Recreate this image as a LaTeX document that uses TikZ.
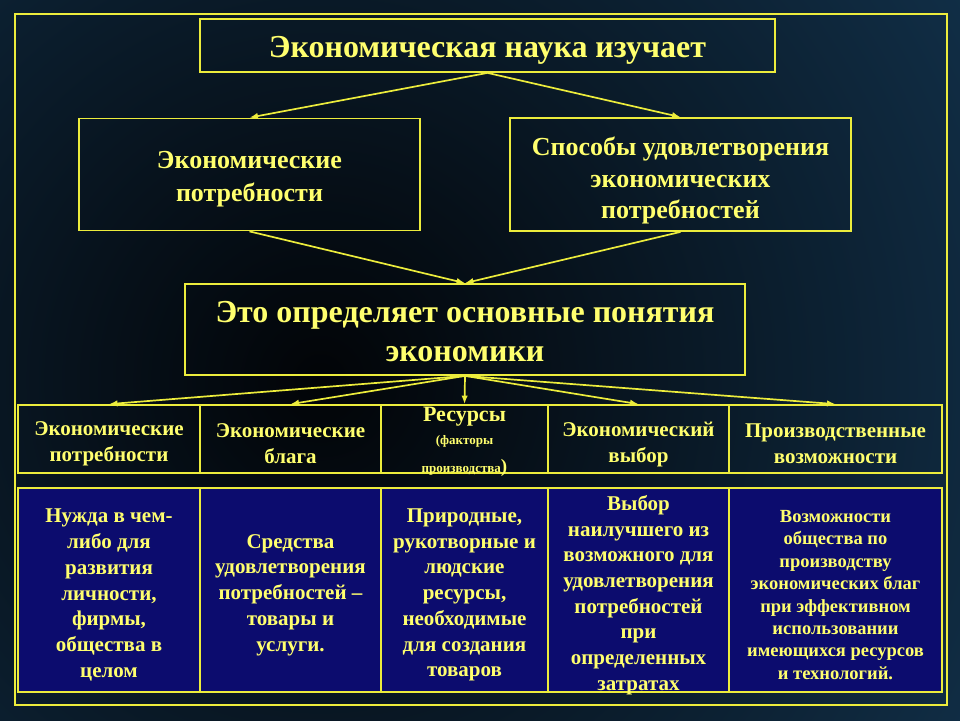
\documentclass[tikz,border=0pt]{standalone}
\usepackage{fontspec}
\setmainfont{Liberation Serif}
\usetikzlibrary{arrows.meta}
\definecolor{ylw}{RGB}{236,236,60}
\definecolor{txt}{RGB}{255,255,110}
\definecolor{navyfill}{RGB}{12,12,110}
\definecolor{bgin}{RGB}{2,4,7}
\definecolor{bgout}{RGB}{18,50,76}
\begin{document}
\begin{tikzpicture}[x=1pt,y=-1pt,
  box/.style={draw=ylw, line width=1.8pt, rectangle, inner sep=0pt},
  tx/.style={text=txt, align=center, inner sep=0pt, yshift=-5pt},
  cell/.style={box, minimum height=68pt},
  desc/.style={box, fill=navyfill, minimum height=204pt},
  celltx/.style={tx, font=\fontsize{21}{26}\selectfont\bfseries},
  desctx/.style={tx, font=\fontsize{21}{25.7}\selectfont\bfseries},
  arr/.style={draw=ylw, line width=1.7pt, -{Latex[length=8.5pt,width=6.5pt]}}]
\useasboundingbox (0,0) rectangle (960,720);
\begin{scope}
\clip (0,0) rectangle (960,720);
\shade[inner color=bgin, outer color=bgout] (320,380) circle (820);
\end{scope}
% outer frame
\node[box, minimum width=932pt, minimum height=691pt] (frame) at (481,359.5) {};
% top level
\node[box, minimum width=575pt, minimum height=53pt] (top) at (487.5,45.5) {};
\node[tx, font=\fontsize{32}{36}\selectfont\bfseries] (ttop) at (top.center) {Экономическая наука изучает};
\node[box, minimum width=341pt, minimum height=112pt] (needs) at (249.5,174.5) {};
\node[tx, font=\fontsize{26}{33}\selectfont\bfseries] (tneeds) at (needs.center) {Экономические\\потребности};
\node[box, minimum width=341pt, minimum height=113pt] (ways) at (680.5,174.5) {};
\node[tx, font=\fontsize{26}{31.5}\selectfont\bfseries, yshift=-1pt] (tways) at (ways.center) {Способы удовлетворения\\экономических\\потребностей};
\node[box, minimum width=560pt, minimum height=91pt] (mid) at (465,329.5) {};
\node[tx, font=\fontsize{32}{39}\selectfont\bfseries, yshift=3pt] (tmid) at (mid.center) {Это определяет основные понятия\\экономики};
% row 1
\node[cell, minimum width=182pt] (c1) at (109,439) {};
\node[cell, minimum width=181pt] (c2) at (290.5,439) {};
\node[cell, minimum width=167pt] (c3) at (464.5,439) {};
\node[cell, minimum width=181pt] (c4) at (638.5,439) {};
\node[cell, minimum width=213pt] (c5) at (835.5,439) {};
\node[celltx] (tc1) at (c1.center) {Экономические\\потребности};
\node[celltx] (tc2) at (c2.center) {Экономические\\блага};
\node[celltx] (tc4) at (c4.center) {Экономический\\выбор};
\node[celltx] (tc5) at (c5.center) {Производственные\\возможности};
\node[text=txt, font=\fontsize{22}{24}\selectfont\bfseries, inner sep=0pt] (res) at (464.5,417) {Ресурсы};
\node[text=txt, font=\fontsize{13}{14}\selectfont\bfseries, inner sep=0pt] (fac) at (464.5,441) {(факторы};
\node[text=txt, font=\fontsize{13}{14}\selectfont\bfseries, inner sep=0pt, anchor=base] (prod) at (464.5,472) {производства\fontsize{19}{20}\selectfont)};
% row 2
\node[desc, minimum width=182pt] (d1) at (109,590) {};
\node[desc, minimum width=181pt] (d2) at (290.5,590) {};
\node[desc, minimum width=167pt] (d3) at (464.5,590) {};
\node[desc, minimum width=181pt] (d4) at (638.5,590) {};
\node[desc, minimum width=213pt] (d5) at (835.5,590) {};
\node[desctx] (td1) at (d1.center) {Нужда в чем-\\либо для\\развития\\личности,\\фирмы,\\общества в\\целом};
\node[desctx] (td2) at (d2.center) {Средства\\удовлетворения\\потребностей –\\товары и\\услуги.};
\node[desctx] (td3) at (d3.center) {Природные,\\рукотворные и\\людские\\ресурсы,\\необходимые\\для создания\\товаров};
\node[desctx] (td4) at (d4.center) {Выбор\\наилучшего из\\возможного для\\удовлетворения\\потребностей\\при\\определенных\\затратах};
\node[tx, font=\fontsize{18.5}{22.4}\selectfont\bfseries] (td5) at (d5.center) {Возможности\\общества по\\производству\\экономических благ\\при эффективном\\использовании\\имеющихся ресурсов\\и технологий.};
% arrows
\draw[arr] (top.south) -- (needs.north);
\draw[arr] (top.south) -- (ways.north);
\draw[arr] (needs.south) -- (mid.north);
\draw[arr] (ways.south) -- (mid.north);
\foreach \c in {c1,c2,c3,c4,c5}{\draw[arr] (mid.south) -- (\c.north);}
\end{tikzpicture}
\end{document}
